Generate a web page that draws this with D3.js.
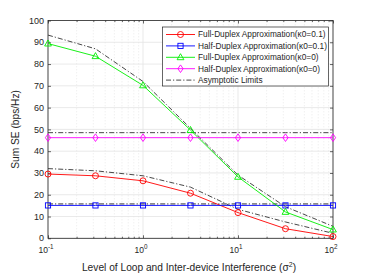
<!DOCTYPE html>
<html>
<head>
<meta charset="utf-8">
<script src="https://cdn.jsdelivr.net/npm/d3@7"></script>
<style>
  body { margin: 0; background: #fff; }
  svg { display: block; font-family: "Liberation Sans", Arial, sans-serif; }
</style>
</head>
<body>
<div id="chart"></div>
<script>
// level of interference (sigma^2)
const sigma2 = [0.1, 0.316, 1, 3.16, 10, 31.6, 100];
// Sum SE (bps/Hz)
const fdK01 = [29.5, 28.7, 26.4, 20.7, 11.8, 4.4, 0.8];
const hdK01 = [15.1, 15.1, 15.1, 15.1, 15.1, 15.1, 15.1];
const fdK0 = [89.4, 83.6, 70.2, 49.7, 28.2, 12.1, 4.0];
const hdK0 = [46.2, 46.2, 46.2, 46.2, 46.2, 46.2, 46.2];
// asymptotic limits
const limFdK0 = [93.3, 87.0, 72.0, 50.5, 29.0, 14.5, 5.5];
const limFdK01 = [32.0, 31.0, 28.7, 23.5, 13.3, 7.5, 2.3];
const limHdK0 = [48.5, 48.5, 48.5, 48.5, 48.5, 48.5, 48.5];
const limHdK01 = [15.8, 15.8, 15.8, 15.8, 15.8, 15.8, 15.8];

const legendNames = [
  "Full-Duplex Approximation(\u03ba0=0.1)",
  "Half-Duplex Approximation(\u03ba0=0.1)",
  "Full-Duplex Approximation(\u03ba0=0)",
  "Half-Duplex Approximation(\u03ba0=0)",
  "Asymptotic Limits"
];
const yTicks = [0, 10, 20, 30, 40, 50, 60, 70, 80, 90, 100];
const xTickExp = [-1, 0, 1, 2];

const W = 368, H = 273;
const m = {left: 48, right: 35, top: 20.5, bottom: 34.7};
const axCol = "#262626";

const svg = d3.select("#chart").append("svg")
  .attr("width", W).attr("height", H);

const x = d3.scaleLog().domain([0.1, 100]).range([m.left, W - m.right]);
const y = d3.scaleLinear().domain([0, 100]).range([H - m.bottom, m.top]);

// minor x positions
let minor = [];
for (let e = -1; e < 2; e++) {
  for (let k = 2; k <= 9; k++) minor.push(k * Math.pow(10, e));
}

// grid
const grid = svg.append("g");
grid.selectAll(".mg").data(minor).join("line")
  .attr("x1", d => x(d)).attr("x2", d => x(d))
  .attr("y1", y(0)).attr("y2", y(100))
  .attr("stroke", "#dcdcdc").attr("stroke-width", 0.6)
  .attr("stroke-dasharray", "1,2");
grid.selectAll(".xg").data(xTickExp).join("line")
  .attr("x1", d => x(Math.pow(10, d))).attr("x2", d => x(Math.pow(10, d)))
  .attr("y1", y(0)).attr("y2", y(100))
  .attr("stroke", "#e3e3e3").attr("stroke-width", 0.8);
grid.selectAll(".yg").data(yTicks).join("line")
  .attr("x1", x(0.1)).attr("x2", x(100))
  .attr("y1", d => y(d)).attr("y2", d => y(d))
  .attr("stroke", "#e3e3e3").attr("stroke-width", 0.8);

// axes (ticks pointing inward)
const yAxisL = d3.axisRight(y).tickValues(yTicks).tickSize(3).tickFormat("");
const yAxisR = d3.axisLeft(y).tickValues(yTicks).tickSize(3).tickFormat("");
svg.append("g").attr("transform", `translate(${m.left},0)`).call(yAxisL);
svg.append("g").attr("transform", `translate(${W - m.right},0)`).call(yAxisR);
const xMaj = xTickExp.map(e => Math.pow(10, e));
svg.append("g").attr("transform", `translate(0,${H - m.bottom})`)
  .call(d3.axisTop(x).tickValues(xMaj).tickSize(3).tickFormat(""));
svg.append("g").attr("transform", `translate(0,${m.top})`)
  .call(d3.axisBottom(x).tickValues(xMaj).tickSize(3).tickFormat(""));
svg.append("g").attr("transform", `translate(0,${H - m.bottom})`)
  .call(d3.axisTop(x).tickValues(minor).tickSize(1.6).tickFormat(""));
svg.append("g").attr("transform", `translate(0,${m.top})`)
  .call(d3.axisBottom(x).tickValues(minor).tickSize(1.6).tickFormat(""));
svg.selectAll(".domain").remove();
svg.selectAll(".tick line").attr("stroke", axCol).attr("stroke-width", 0.7);

svg.append("rect")
  .attr("x", m.left).attr("y", m.top)
  .attr("width", W - m.left - m.right).attr("height", H - m.top - m.bottom)
  .attr("fill", "none").attr("stroke", axCol).attr("stroke-width", 0.8);

// tick labels
svg.append("g").selectAll("text").data(yTicks).join("text")
  .attr("x", m.left - 4).attr("y", d => y(d)).attr("dy", "0.35em")
  .attr("text-anchor", "end").attr("font-size", 9).attr("fill", axCol)
  .text(d => d);
const xl = svg.append("g").selectAll("text").data(xTickExp).join("text")
  .attr("x", d => x(Math.pow(10, d)) - 2).attr("y", 252.5)
  .attr("text-anchor", "middle").attr("font-size", 8.5).attr("fill", axCol);
xl.append("tspan").text("10");
xl.append("tspan").attr("dy", -4).attr("font-size", 6.3).text(d => d);

// axis titles
svg.append("text")
  .attr("x", 189).attr("y", 271)
  .attr("text-anchor", "middle").attr("font-size", 10.2).attr("fill", axCol)
  .text("Level of Loop and Inter-device Interference (\u03c3")
  .append("tspan").attr("dy", -4).attr("font-size", 7).text("2")
  .select(function() { return this.parentNode; })
  .append("tspan").attr("dy", 4).text(")");
svg.append("text")
  .attr("transform", `translate(19,${(m.top + H - m.bottom) / 2}) rotate(-90)`)
  .attr("text-anchor", "middle").attr("font-size", 10.2).attr("fill", axCol)
  .text("Sum SE (bps/Hz)");

const line = d3.line().x((d, i) => x(sigma2[i])).y(d => y(d));
const dashDot = "5,2,1.2,2";

// asymptotic limits
const lims = [
  {v: limFdK0, c: "#333", w: 0.9},
  {v: limFdK01, c: "#333", w: 0.9},
  {v: limHdK0, c: "#333", w: 0.9},
  {v: limHdK01, c: "#8a8a8a", w: 1.8}
];
svg.append("g").selectAll("path").data(lims).join("path")
  .attr("d", d => line(d.v)).attr("fill", "none")
  .attr("stroke", d => d.c).attr("stroke-width", d => d.w)
  .attr("stroke-dasharray", dashDot);

// marker shapes
function marker(sel, type, color) {
  if (type === "circle") {
    sel.append("circle").attr("r", 3).attr("fill", "none")
      .attr("stroke", color).attr("stroke-width", 0.9);
  } else if (type === "square") {
    sel.append("rect").attr("x", -2.6).attr("y", -2.6).attr("width", 5.2).attr("height", 5.2)
      .attr("fill", "none").attr("stroke", color).attr("stroke-width", 0.9);
  } else if (type === "triangle") {
    sel.append("path").attr("d", "M0,-3.6L3.4,2.4L-3.4,2.4Z")
      .attr("fill", "none").attr("stroke", color).attr("stroke-width", 0.9);
  } else {
    sel.append("path").attr("d", "M0,-3.8L2.6,0L0,3.8L-2.6,0Z")
      .attr("fill", "none").attr("stroke", color).attr("stroke-width", 0.9);
  }
}

const series = [
  {v: fdK01, c: "#ff0000", m: "circle"},
  {v: hdK01, c: "#0000ff", m: "square"},
  {v: fdK0, c: "#00ee00", m: "triangle"},
  {v: hdK0, c: "#ff00ff", m: "diamond"}
];
series.forEach(s => {
  svg.append("path").attr("d", line(s.v)).attr("fill", "none")
    .attr("stroke", s.c).attr("stroke-width", 0.9);
  svg.append("g").selectAll("g").data(s.v).join("g")
    .attr("transform", (d, i) => `translate(${x(sigma2[i])},${y(d)})`)
    .each(function() { marker(d3.select(this), s.m, s.c); });
});

// legend
const lg = svg.append("g");
lg.append("rect").attr("x", 162.5).attr("y", 27).attr("width", 166).attr("height", 59)
  .attr("fill", "#fff").attr("stroke", axCol).attr("stroke-width", 0.7);
const items = series.concat([{c: "#333", m: null}]);
items.forEach((s, i) => {
  const yy = 34.5 + i * 11.4;
  const it = lg.append("g");
  it.append("line").attr("x1", 166).attr("x2", 195).attr("y1", yy).attr("y2", yy)
    .attr("stroke", s.c).attr("stroke-width", 0.9)
    .attr("stroke-dasharray", s.m ? null : dashDot);
  if (s.m) {
    const mg = it.append("g").attr("transform", `translate(180.5,${yy})`);
    marker(mg, s.m, s.c);
  }
  it.append("text").attr("x", 198).attr("y", yy).attr("dy", "0.35em")
    .attr("font-size", 8.3).attr("fill", axCol).text(legendNames[i]);
});
</script>
</body>
</html>
